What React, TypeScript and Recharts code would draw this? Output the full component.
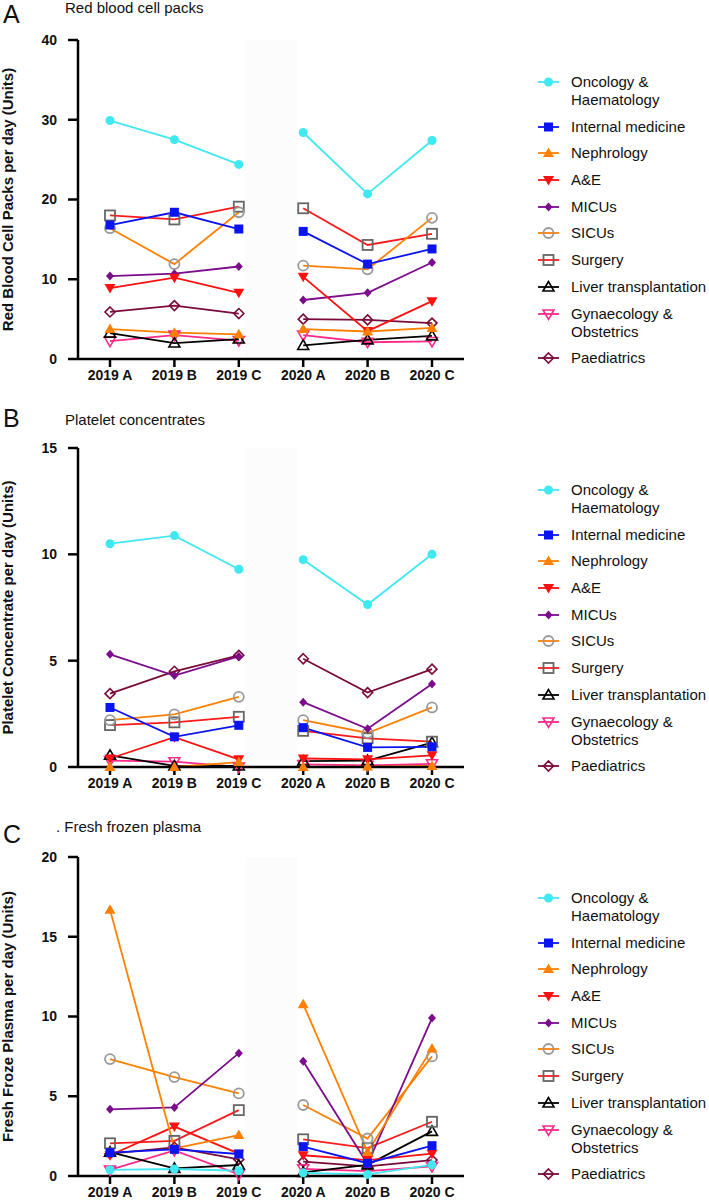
import React from "react";
import {
  LineChart,
  Line,
  XAxis,
  YAxis,
  ReferenceArea,
} from "recharts";

// x categories (three periods per year)
const CATEGORIES = ["2019 A", "2019 B", "2019 C", "2020 A", "2020 B", "2020 C"];

const DEPARTMENTS = [
  "Oncology & Haematology",
  "Internal medicine",
  "Nephrology",
  "A&E",
  "MICUs",
  "SICUs",
  "Surgery",
  "Liver transplantation",
  "Gynaecology & Obstetrics",
  "Paediatrics",
];

// A. red blood cell packs per day, one row per department (same order as DEPARTMENTS)
const RBC_VALUES = [
  [29.9, 27.5, 24.4, 28.4, 20.7, 27.4],
  [16.8, 18.4, 16.3, 16.0, 11.9, 13.8],
  [3.75, 3.3, 3.1, 3.75, 3.45, 3.9],
  [8.9, 10.2, 8.3, 10.3, 3.5, 7.25],
  [10.4, 10.7, 11.6, 7.4, 8.3, 12.1],
  [16.4, 11.9, 18.4, 11.7, 11.25, 17.7],
  [18.0, 17.5, 19.1, 18.9, 14.3, 15.7],
  [3.25, 2.0, 2.5, 1.7, 2.4, 2.9],
  [2.25, 3.0, 2.3, 3.0, 2.1, 2.2],
  [5.9, 6.7, 5.7, 5.0, 4.9, 4.5],
];

// B. platelet concentrates per day
const PLATELET_VALUES = [
  [10.5, 10.88, 9.3, 9.75, 7.64, 10.0],
  [2.8, 1.42, 1.96, 1.85, 0.92, 0.95],
  [0, 0, 0.23, 0, 0.02, 0.05],
  [0.4, 1.4, 0.36, 0.4, 0.36, 0.55],
  [5.3, 4.3, 5.2, 3.05, 1.8, 3.9],
  [2.2, 2.47, 3.3, 2.2, 1.6, 2.8],
  [1.97, 2.1, 2.36, 1.7, 1.35, 1.19],
  [0.55, 0.05, 0.05, 0.28, 0.3, 1.15],
  [0.3, 0.25, 0, 0.12, 0.08, 0.15],
  [3.45, 4.5, 5.25, 5.09, 3.5, 4.6],
];

// C. fresh frozen plasma per day
const FFP_VALUES = [
  [0.38, 0.44, 0.33, 0.2, 0.1, 0.7],
  [1.46, 1.67, 1.38, 1.84, 0.8, 1.9],
  [16.7, 1.73, 2.57, 10.77, 1.5, 8.0],
  [1.3, 3.1, 1.4, 1.3, 1.0, 1.4],
  [4.18, 4.3, 7.7, 7.2, 0.75, 9.9],
  [7.33, 6.2, 5.18, 4.45, 2.35, 7.5],
  [2.05, 2.2, 4.13, 2.3, 1.75, 3.4],
  [1.5, 0.48, 0.69, 0.23, 0.7, 2.8],
  [0.38, 1.6, 0.1, 0.45, 0.3, 0.6],
  [1.4, 1.8, 1.04, 0.9, 0.6, 1.0],
];

const RBC_TICKS = [0, 10, 20, 30, 40];
const PLATELET_TICKS = [0, 5, 10, 15];
const FFP_TICKS = [0, 5, 10, 15, 20];

const FONT = '"Liberation Sans", Arial, Helvetica, sans-serif';

// line colour, marker colour and marker shape per department
const SERIES_STYLE = [
  { line: "#40e8f2", marker: "#40e8f2", shape: "circle" },
  { line: "#0a14f2", marker: "#0a14f2", shape: "square" },
  { line: "#ff8000", marker: "#ff8000", shape: "triangle" },
  { line: "#ff1010", marker: "#ff1010", shape: "triangleDown" },
  { line: "#7b0c8c", marker: "#7b0c8c", shape: "diamond" },
  { line: "#ff8000", marker: "#999999", shape: "openCircle" },
  { line: "#ff1a1a", marker: "#666666", shape: "openSquare" },
  { line: "#000000", marker: "#000000", shape: "openTriangle" },
  { line: "#ff2a8a", marker: "#ff2a8a", shape: "openTriangleDown" },
  { line: "#7a0a3a", marker: "#7a0a3a", shape: "openDiamond" },
];

function Marker({ shape, x, y, color }: any) {
  switch (shape) {
    case "circle":
      return <circle cx={x} cy={y} r={4.5} fill={color} />;
    case "square":
      return <rect x={x - 4.5} y={y - 4.5} width={9} height={9} fill={color} />;
    case "triangle":
      return <polygon points={`${x},${y - 5.5} ${x - 5.5},${y + 4} ${x + 5.5},${y + 4}`} fill={color} />;
    case "triangleDown":
      return <polygon points={`${x - 5.5},${y - 4} ${x + 5.5},${y - 4} ${x},${y + 5.5}`} fill={color} />;
    case "diamond":
      return <polygon points={`${x},${y - 4.5} ${x + 4},${y} ${x},${y + 4.5} ${x - 4},${y}`} fill={color} />;
    case "openCircle":
      return <circle cx={x} cy={y} r={5} fill="none" stroke={color} strokeWidth={1.8} />;
    case "openSquare":
      return <rect x={x - 5} y={y - 5} width={10} height={10} fill="none" stroke={color} strokeWidth={1.8} />;
    case "openTriangle":
      return <polygon points={`${x},${y - 5.5} ${x - 5.5},${y + 4} ${x + 5.5},${y + 4}`} fill="none" stroke={color} strokeWidth={1.6} />;
    case "openTriangleDown":
      return <polygon points={`${x - 5.5},${y - 4} ${x + 5.5},${y - 4} ${x},${y + 5.5}`} fill="none" stroke={color} strokeWidth={1.6} />;
    case "openDiamond":
      return <polygon points={`${x},${y - 5} ${x + 5},${y} ${x},${y + 5} ${x - 5},${y}`} fill="none" stroke={color} strokeWidth={1.6} />;
    default:
      return null;
  }
}

const makeDot = (style: any, id: string) => (props: any) => {
  const { cx, cy, index, value } = props;
  const key = `${id}-${index}`;
  if (cx == null || cy == null || value == null) return <g key={key} />;
  return (
    <g key={key}>
      <Marker shape={style.shape} x={cx} y={cy} color={style.marker} />
    </g>
  );
};

// split each department into a 2019 key and a 2020 key so the line breaks between years
function buildRows(values: number[][]) {
  return CATEGORIES.map((cat, i) => {
    const row: any = { cat };
    values.forEach((series, k) => {
      row[`y19_${k}`] = i < 3 ? series[i] : null;
      row[`y20_${k}`] = i >= 3 ? series[i] : null;
    });
    return row;
  });
}

function Legend({ top }: { top: number }) {
  return (
    <div style={{ position: "absolute", left: 536, top, fontFamily: FONT, fontSize: 15, color: "#111" }}>
      {DEPARTMENTS.map((name, k) => {
        const lines = name === "A&E" ? [name] : name.split(/(?<= &) /);
        const st = SERIES_STYLE[k];
        return (
          <div key={name} style={{ display: "flex", alignItems: "flex-start", marginBottom: 8.7 }}>
            <svg width={26} height={18} style={{ flex: "none" }}>
              <line x1={2} y1={9} x2={23} y2={9} stroke={st.line} strokeWidth={1.8} />
              <Marker shape={st.shape} x={12.5} y={9} color={st.marker} />
            </svg>
            <div style={{ marginLeft: 9, lineHeight: "18px", whiteSpace: "nowrap" }}>
              {lines.map((l) => (
                <div key={l}>{l}</div>
              ))}
            </div>
          </div>
        );
      })}
    </div>
  );
}

const tickStyle = { fill: "#111", fontSize: 14, fontWeight: 700, fontFamily: FONT };

function Panel({ plotTop, values, ticks, yLabel }: any) {
  const data = buildRows(values);
  const yMax = ticks[ticks.length - 1];
  const order = SERIES_STYLE.map((_, k) => k).reverse();
  return (
    <div style={{ position: "absolute", left: 0, top: plotTop - 10 }}>
      <LineChart width={709} height={370} data={data} margin={{ top: 10, right: 245, bottom: 11, left: 0 }}>
        {/* barely visible band marking the break between the two years */}
        <ReferenceArea
          x1="2019 C"
          x2="2020 A"
          ifOverflow="visible"
          shape={(p: any) => (
            <rect x={p.x + 6} y={p.y} width={p.width - 12} height={p.height} fill="#fcfcfd" />
          )}
        />
        <XAxis
          dataKey="cat"
          interval={0}
          padding={{ left: 32, right: 32 }}
          height={30}
          tickSize={8}
          tickMargin={3}
          axisLine={{ stroke: "#000", strokeWidth: 2.5 }}
          tickLine={{ stroke: "#000", strokeWidth: 2.5 }}
          tick={tickStyle}
        />
        <YAxis
          width={78}
          domain={[0, yMax]}
          ticks={ticks}
          tickSize={10}
          tickMargin={11}
          axisLine={{ stroke: "#000", strokeWidth: 2.5 }}
          tickLine={{ stroke: "#000", strokeWidth: 2.5 }}
          tick={tickStyle}
          label={(p: any) => {
            const vb = p.viewBox || {};
            const cy = (vb.y ?? 10) + (vb.height ?? 320) / 2;
            return (
              <text
                x={13}
                y={cy}
                transform={`rotate(-90, 13, ${cy})`}
                textAnchor="middle"
                fontFamily={FONT}
                fontSize={15}
                fontWeight={700}
                fill="#111"
              >
                {yLabel}
              </text>
            );
          }}
        />
        {order.map((k) => {
          const st = SERIES_STYLE[k];
          return [
            <Line
              key={`a${k}`}
              type="linear"
              dataKey={`y19_${k}`}
              stroke={st.line}
              strokeWidth={1.8}
              dot={makeDot(st, `a${k}`)}
              activeDot={false}
              isAnimationActive={false}
            />,
            <Line
              key={`b${k}`}
              type="linear"
              dataKey={`y20_${k}`}
              stroke={st.line}
              strokeWidth={1.8}
              dot={makeDot(st, `b${k}`)}
              activeDot={false}
              isAnimationActive={false}
            />,
          ];
        })}
      </LineChart>
    </div>
  );
}

function Heading({ letter, title, letterBase, titleBase, titleX }: any) {
  return (
    <>
      <text x={3} y={letterBase} fontFamily={FONT} fontSize={25} fill="#111">
        {letter}
      </text>
      <text x={titleX} y={titleBase} fontFamily={FONT} fontSize={15} fill="#111">
        {title}
      </text>
    </>
  );
}

export default function App() {
  return (
    <div style={{ position: "absolute", left: 0, top: 0, width: 709, height: 1201, background: "#fff", overflow: "hidden" }}>
      <svg width={709} height={1201} style={{ position: "absolute", left: 0, top: 0 }}>
        <Heading letter="A" title="Red blood cell packs" letterBase={23} titleBase={13} titleX={65} />
        <Heading letter="B" title="Platelet concentrates" letterBase={427} titleBase={425} titleX={65} />
        <Heading letter="C" title=". Fresh frozen plasma" letterBase={843} titleBase={832} titleX={56} />
      </svg>
      <Panel plotTop={40} values={RBC_VALUES} ticks={RBC_TICKS} yLabel="Red Blood Cell Packs per day (Units)" />
      <Panel plotTop={448} values={PLATELET_VALUES} ticks={PLATELET_TICKS} yLabel="Platelet Concentrate per day (Units)" />
      <Panel plotTop={857} values={FFP_VALUES} ticks={FFP_TICKS} yLabel="Fresh Froze Plasma per day (Units)" />
      <Legend top={73} />
      <Legend top={481} />
      <Legend top={889} />
    </div>
  );
}
